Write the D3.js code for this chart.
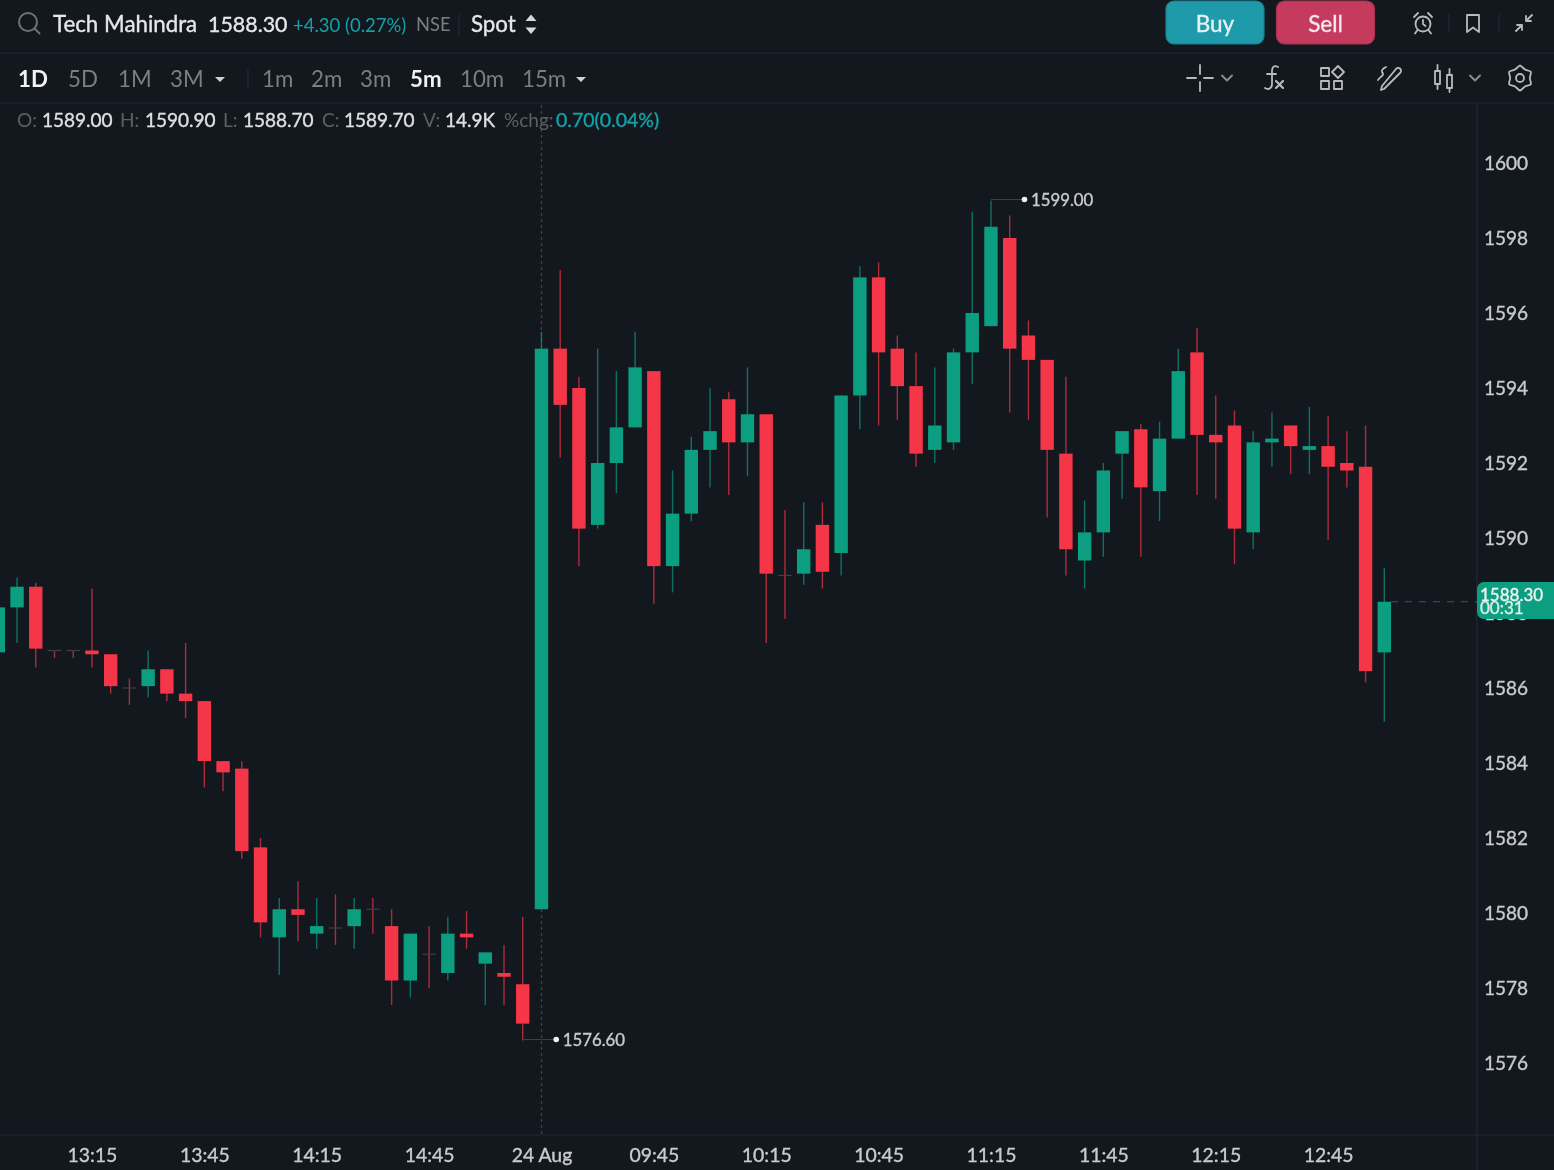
<!DOCTYPE html>
<html>
<head>
<meta charset="utf-8">
<script src="https://cdn.jsdelivr.net/npm/d3@7"></script>
<style>
  html, body { margin: 0; padding: 0; background: #13181e; overflow: hidden; }
  svg { display: block; font-family: Lato, sans-serif; filter: blur(0.45px); }
</style>
</head>
<body>
<svg id="chart"></svg>
<script>
// 5 minute candles, first 29 belong to the previous session, the rest to 24 Aug
const opens = [1586.95,1588.15,1588.7,1587,1587,1587,1586.9,1586,1586.05,1586.5,1585.85,1585.65,1584.05,1583.85,1581.75,1579.35,1580.1,1579.45,1579.6,1579.65,1580.1,1579.65,1578.2,1578.9,1578.4,1579.45,1578.65,1578.4,1578.1,
  1580.1,1595.05,1594,1590.35,1592,1592.95,1594.45,1589.25,1590.65,1592.35,1593.7,1592.55,1593.3,1589,1589.05,1590.35,1589.6,1593.8,1596.95,1595.05,1594.05,1592.35,1592.55,1594.95,1595.65,1598,1595.4,1594.75,1592.25,1589.4,1590.15,1592.25,1592.9,1591.25,1592.65,1594.95,1592.75,1593,1590.15,1592.55,1593,1592.35,1592.45,1592,1591.9,1586.95]
const highs = [1588.15,1588.95,1588.8,1587,1587,1588.65,1586.9,1586.25,1587,1586.5,1587.2,1585.65,1584.05,1584.05,1582,1580.4,1580.85,1580.4,1580.5,1580.4,1580.4,1580.1,1579.45,1579.65,1579.9,1580.05,1578.95,1579.15,1579.9,
  1595.5,1597.15,1594.3,1595.05,1594.45,1595.5,1594.45,1591.8,1592.7,1594,1593.9,1594.55,1593.3,1590.75,1590.95,1590.95,1593.8,1597.25,1597.35,1595.4,1594.95,1594.55,1595.05,1598.7,1599,1598.6,1595.8,1594.75,1594.3,1591,1592,1592.85,1593.05,1593.1,1595.05,1595.6,1593.8,1593.4,1592.85,1593.35,1593,1593.5,1593.25,1592.85,1593,1589.2]
const lows = [1586.95,1587.2,1586.55,1586.8,1586.8,1586.55,1585.85,1585.55,1585.75,1585.65,1585.2,1583.35,1583.25,1581.45,1579.35,1578.35,1579.25,1579.05,1579.15,1579.05,1579.45,1577.55,1577.75,1578,1578.2,1579.05,1577.55,1577.55,1576.6,
  1580.1,1592.15,1589.25,1590.25,1591.2,1592.95,1588.25,1588.55,1590.45,1591.35,1591.15,1591.65,1587.2,1587.85,1588.75,1588.65,1589,1592.9,1593,1593.15,1591.9,1592,1592.35,1594.1,1595.65,1593.35,1593.15,1590.55,1589,1588.65,1589.5,1591.05,1589.5,1590.45,1592.65,1591.15,1591.05,1589.3,1589.7,1591.9,1591.7,1591.7,1589.95,1591.35,1586.15,1585.1]
const closes = [1588.15,1588.7,1587.05,1587,1587,1586.9,1586.05,1586,1586.5,1585.85,1585.65,1584.05,1583.75,1581.65,1579.75,1580.1,1579.95,1579.65,1579.6,1580.1,1580.1,1578.2,1579.45,1578.9,1579.45,1579.35,1578.95,1578.3,1577.05,
  1595.05,1593.55,1590.25,1592,1592.95,1594.55,1589.25,1590.65,1592.35,1592.85,1592.55,1593.3,1589.05,1589,1589.7,1589.1,1593.8,1596.95,1594.95,1594.05,1592.25,1593,1594.95,1596,1598.3,1595.05,1594.75,1592.35,1589.7,1590.15,1591.8,1592.85,1591.35,1592.65,1594.45,1592.75,1592.55,1590.25,1592.55,1592.65,1592.45,1592.45,1591.9,1591.8,1586.45,1588.3]

const priceTicks = [1576,1578,1580,1582,1584,1586,1588,1590,1592,1594,1596,1598,1600]
const timeTickIndex = [5,11,17,23,29,35,41,47,53,59,65,71]
const timeTickLabels = ["13:15","13:45","14:15","14:45","24 Aug","09:45","10:15","10:45","11:15","11:45","12:15","12:45"]

const width = 1554, height = 1170
const axisX = 1477, axisY = 1135
const up = "#0b9e81", down = "#f53648", bg = "#13181e", rule = "#242932"
const dim = "#7b7e84", bright = "#e6e7e9", tickColor = "#c9cbce", teal = "#12a2a8"

const svg = d3.select("#chart").attr("width", width).attr("height", height)
svg.append("rect").attr("width", width).attr("height", height).attr("fill", bg)

const x = d3.scaleLinear().domain([0, 74]).range([-1.7, 1384.3])
const y = d3.scaleLinear().domain([1576, 1600]).range([1063, 163])
const bodyW = 13.4

// helpers
function label(px, py, text, size, color, weight, anchor) {
  const t = svg.append("text").attr("x", px).attr("y", py).text(text)
    .attr("font-size", size).attr("fill", color)
    .attr("font-weight", weight === 700 ? 700 : 400).attr("text-anchor", anchor || "start")
  // the screenshot's text sits between regular and bold
  if (weight === 500) t.attr("stroke", color).attr("stroke-width", 0.35)
  return t
}
function hline(x1, x2, py) {
  svg.append("line").attr("x1", x1).attr("x2", x2).attr("y1", py).attr("y2", py).attr("stroke", rule).attr("stroke-width", 1.2)
}
function vline(px, y1, y2) {
  svg.append("line").attr("x1", px).attr("x2", px).attr("y1", y1).attr("y2", y2).attr("stroke", rule).attr("stroke-width", 1.2)
}
function icon(px, py, d, color, sw) {
  svg.append("path").attr("transform", "translate(" + px + "," + py + ")").attr("d", d)
    .attr("fill", "none").attr("stroke", color || "#b9babd").attr("stroke-width", sw || 1.8)
    .attr("stroke-linecap", "round").attr("stroke-linejoin", "round")
}

// frame
hline(0, width, 53)
hline(0, width, 103)
vline(axisX, 103, height)
hline(0, width, axisY)

// crosshair on the hovered candle
svg.append("line").attr("x1", x(29)).attr("x2", x(29)).attr("y1", 105).attr("y2", axisY)
  .attr("stroke", "#3d424b").attr("stroke-width", 1.3).attr("stroke-dasharray", "3 3")

// candles
const candles = d3.range(closes.length).map(i => ({i, o: opens[i], h: highs[i], l: lows[i], c: closes[i]}))
const g = svg.append("g").selectAll("g").data(candles).enter().append("g")
const colorOf = d => d.c > d.o ? up : down

g.append("line")
  .attr("x1", d => x(d.i)).attr("x2", d => x(d.i))
  .attr("y1", d => y(d.h)).attr("y2", d => y(d.l))
  .attr("stroke", colorOf).attr("stroke-width", 1.4).attr("stroke-opacity", 0.68)

// flat candles only show a faint dash
g.filter(d => d.o === d.c).append("line")
  .attr("x1", d => x(d.i) - bodyW / 2).attr("x2", d => x(d.i) + bodyW / 2)
  .attr("y1", d => y(d.c)).attr("y2", d => y(d.c))
  .attr("stroke", "#3c4048").attr("stroke-width", 1.2)

g.filter(d => d.o !== d.c).append("rect")
  .attr("x", d => x(d.i) - bodyW / 2).attr("width", bodyW)
  .attr("y", d => y(Math.max(d.o, d.c)))
  .attr("height", d => Math.abs(y(d.o) - y(d.c)))
  .attr("fill", colorOf)

// high / low markers
function extreme(i, price, txt) {
  const dotX = x(i) + 33.5, py = y(price) - 1
  svg.append("line").attr("x1", x(i)).attr("x2", dotX).attr("y1", py).attr("y2", py)
    .attr("stroke", "#3a3f48").attr("stroke-width", 1.2)
  svg.append("circle").attr("cx", dotX).attr("cy", py).attr("r", 2.8).attr("fill", "#f1f1f1")
  label(dotX + 6.5, py + 6, txt, 16.8, "#c9cbce", 500)
}
extreme(53, 1599, "1599.00")
extreme(28, 1576.6, "1576.60")

// axes
const yAxis = svg.append("g").attr("transform", "translate(" + axisX + ",0)")
  .call(d3.axisRight(y).tickValues(priceTicks).tickSize(0).tickPadding(7).tickFormat(d3.format("d")))
yAxis.select(".domain").remove()
yAxis.selectAll("text").attr("font-family", "Lato, sans-serif").attr("font-size", 19).attr("fill", tickColor)
  .attr("stroke", tickColor).attr("stroke-width", 0.35)

const xAxis = svg.append("g").attr("transform", "translate(0," + axisY + ")")
  .call(d3.axisBottom(x).tickValues(timeTickIndex).tickSize(0).tickPadding(13)
    .tickFormat((d, i) => timeTickLabels[i]))
xAxis.select(".domain").remove()
xAxis.selectAll("text").attr("font-family", "Lato, sans-serif").attr("font-size", 19.4).attr("fill", tickColor)
  .attr("stroke", tickColor).attr("stroke-width", 0.35)

// last price line and tag
const last = closes[closes.length - 1]
svg.append("line").attr("x1", x(74) + bodyW / 2).attr("x2", axisX).attr("y1", y(last)).attr("y2", y(last))
  .attr("stroke", "#0f6e60").attr("stroke-width", 1.2).attr("stroke-dasharray", "7 7")
svg.append("path").attr("d", "M1554,582H1484a7,7 0 0 0 -7,7V612a7,7 0 0 0 7,7H1554Z").attr("fill", up)
label(1480, 601, d3.format(".2f")(last), 17, "#eef5f3", 500)
label(1480, 614, "00:31", 17, "#dcefe9", 500)

// top bar
svg.append("circle").attr("cx", 28).attr("cy", 22).attr("r", 9).attr("fill", "none").attr("stroke", "#6f7277").attr("stroke-width", 2)
icon(34.5, 28.5, "M0,0L5,5", "#6f7277", 2)
label(53, 32, "Tech Mahindra", 22.3, bright, 500)
label(208, 32, "1588.30", 21.4, bright, 500)
label(293, 32, "+4.30 (0.27%)", 18.5, teal)
label(416, 31, "NSE", 18.3, dim)
vline(459, 14, 36)
label(471, 32, "Spot", 22.3, bright, 500)
svg.append("path").attr("d", "M531,14.5l5.5,6.5h-11ZM531,34l5.5,-6.5h-11Z").attr("fill", "#d8d9db")

svg.append("rect").attr("x", 1166).attr("y", 1).attr("width", 98).attr("height", 43).attr("rx", 8)
  .attr("fill", "#1f9aab").attr("stroke", "#17808f").attr("stroke-width", 1.2)
label(1215, 32, "Buy", 22.5, "#e6f3f4", 500, "middle")
svg.append("rect").attr("x", 1276.5).attr("y", 1).attr("width", 98).attr("height", 43).attr("rx", 8)
  .attr("fill", "#c53b5e").attr("stroke", "#a8324f").attr("stroke-width", 1.2)
label(1325.5, 32, "Sell", 22.5, "#f6e6ea", 500, "middle")

// alarm, bookmark, collapse
svg.append("circle").attr("cx", 1423).attr("cy", 24).attr("r", 7.5).attr("fill", "none").attr("stroke", "#b9babd").attr("stroke-width", 1.8)
icon(1423, 24, "M0,-4V0L2.5,2M-9,-7L-5,-11M9,-7L5,-11M-5.5,6L-8,9.5M5.5,6L8,9.5")
vline(1449, 14, 32)
icon(1473, 23, "M-6,-8H6V9L0,4.5L-6,9Z")
vline(1499, 14, 32)
icon(1524, 23, "M2,-2L8,-8M2,-7V-2H7M-2,2L-8,8M-7,2H-2V7")

// second bar
const dayLabels = ["1D","5D","1M","3M"], dayX = [18,68,118,170]
dayLabels.forEach((t, i) => label(dayX[i], 87, t, 22.3, i === 0 ? "#f2f2f2" : dim, i === 0 ? 700 : 400))
svg.append("path").attr("d", "M215,77h10l-5,5Z").attr("fill", "#d0d1d3")
vline(248, 68, 90)
const minLabels = ["1m","2m","3m","5m","10m","15m"], minX = [262,311,360,410,460,522]
minLabels.forEach((t, i) => label(minX[i], 87, t, 22.3, i === 3 ? "#f2f2f2" : dim, i === 3 ? 700 : 400))
svg.append("path").attr("d", "M576,77h10l-5,5Z").attr("fill", "#d0d1d3")

icon(1200, 78, "M-13,0H-4M4,0H13M0,-13V-4M0,4V13")
icon(1227, 78, "M-5,-2.5L0,2.5L5,-2.5", "#8e9094")
icon(1271, 78, "M7,-11C3,-13 1,-11 1,-7V6C1,11 -3,12 -6,10M-4,-4H5", "#b9babd")
icon(1280, 84, "M-4,-3L3,4M3,-3L-4,4", "#b9babd", 2.2)
icon(1332, 78, "M-11,-10H-3V-2H-11ZM-11,3H-3V11H-11ZM2,3H10V11H2ZM6,-12L12,-6L6,0L0,-6Z")
icon(1390, 78, "M-6,11L-9,12L-8,8L6,-9C9,-12 13,-8 10,-5ZM-12,2C-9,-2 -5,-3 -8,-6C-9,-8 -6,-10 -4,-11")
icon(1444, 78, "M-9,-7H-4V6H-9ZM-6.5,-13V-7M-6.5,6V11M3,-3H8V10H3ZM5.5,-9V-3M5.5,10V14")
icon(1475, 78, "M-5,-2.5L0,2.5L5,-2.5", "#8e9094")
svg.append("circle").attr("cx", 1520).attr("cy", 78).attr("r", 4).attr("fill", "none").attr("stroke", "#b9babd").attr("stroke-width", 1.8)
const gear = d3.lineRadial().curve(d3.curveCardinalClosed.tension(0.3))
  .angle((d, i) => i * Math.PI / 6).radius((d, i) => i % 2 ? 9.8 : 12.5)
icon(1520, 78, gear(d3.range(12)))

// hovered candle readout
const ohlcNames = ["O:","H:","L:","C:","V:","%chg:"], ohlcNameX = [17,120,223,322,423,504]
const ohlcValues = ["1589.00","1590.90","1588.70","1589.70","14.9K","0.70(0.04%)"], ohlcValueX = [42,145,243,344,445,556]
ohlcNames.forEach((t, i) => label(ohlcNameX[i], 127, t, 19, "#5c6066"))
ohlcValues.forEach((t, i) => label(ohlcValueX[i], 127, t, i === 5 ? 19.5 : 19, i === 5 ? teal : "#dfe0e2", 500))
</script>
</body>
</html>
